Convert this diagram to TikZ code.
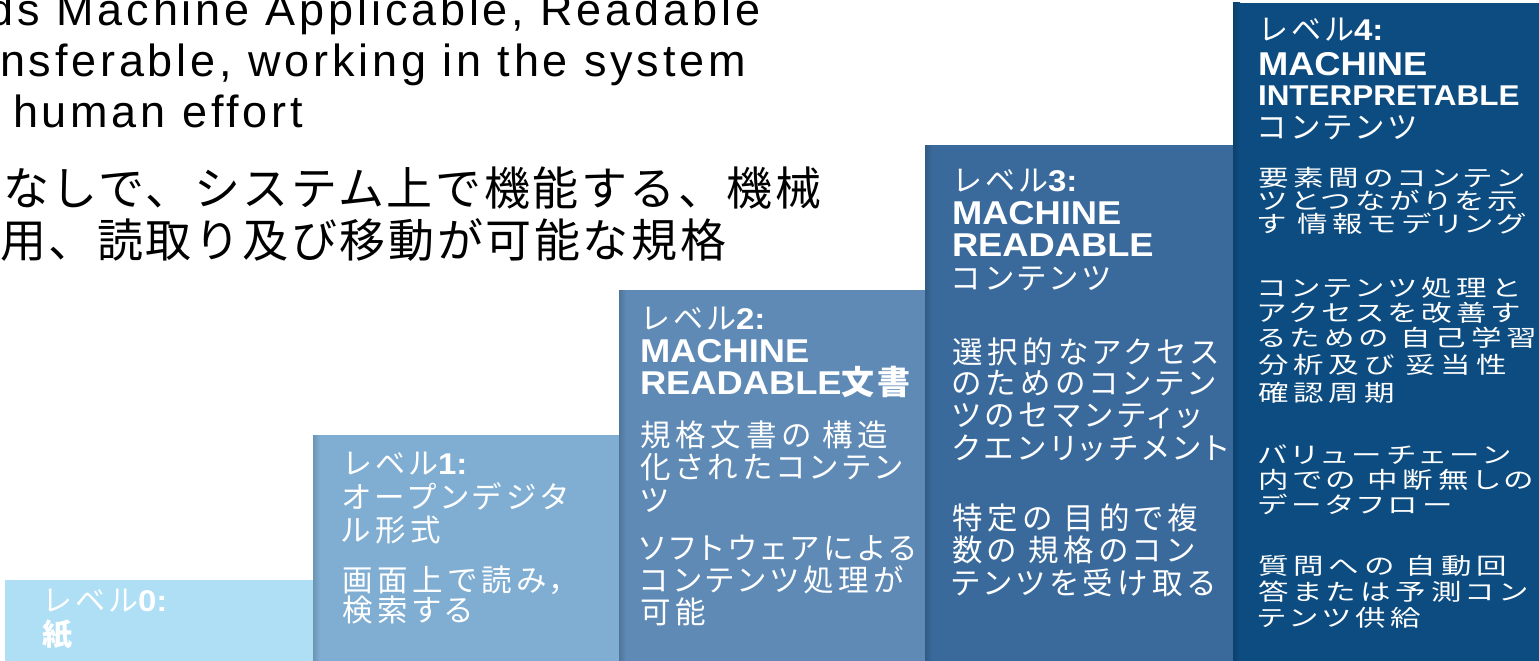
\documentclass[tikz,border=0pt]{standalone}
\usepackage{fontspec}
\usepackage{graphicx}
\setmainfont{Liberation Sans}
\newfontfamily\jp[LetterSpace=16,RawFeature={+palt}]{Noto Sans CJK JP}
\newfontfamily\jph[LetterSpace=10]{Noto Sans CJK JP}
\newfontfamily\jptop[LetterSpace=5.6]{Noto Sans CJK JP}
\newfontfamily\entop[LetterSpace=8.5]{Liberation Sans}
\newfontfamily\hd[FakeStretch=1.1]{Liberation Sans}
\definecolor{lvA}{HTML}{AEDFF5}
\definecolor{lvB}{HTML}{80AED3}
\definecolor{lvC}{HTML}{5E8AB5}
\definecolor{lvD}{HTML}{3A6A9B}
\definecolor{lvE}{HTML}{0D4C80}
\tikzset{
  ln/.style={anchor=base west, inner sep=0pt, outer sep=0pt, text=white, font=\jp\fontsize{30.5}{30.5}\selectfont},
  lvhead/.style={ln, font=\jph\fontsize{30}{30}\selectfont},
  hdline/.style={ln, font=\hd\bfseries\fontsize{33}{33}\selectfont},
  topen/.style={anchor=base west, inner sep=0pt, outer sep=0pt, text=black, font=\entop\fontsize{45}{45}\selectfont},
  topjp/.style={anchor=base west, inner sep=0pt, outer sep=0pt, text=black, font=\jptop\fontsize{46}{46}\selectfont},
}
\newcommand{\lvnum}[1]{{\hd\bfseries #1}}
\newcommand{\sq}[1]{\scalebox{1}[0.75]{#1}}
\begin{document}
\begin{tikzpicture}[x=1pt,y=-1pt]
\useasboundingbox (0,0) rectangle (1539,661);
\clip (0,0) rectangle (1539,661);
\fill[white] (0,0) rectangle (1539,661);
% steps
\fill[lvA] (5,580) rectangle (313,661);
\fill[lvB] (313,435) rectangle (619,661);
\fill[lvC] (619,290) rectangle (925,661);
\fill[lvD] (925,145) rectangle (1233,661);
\fill[lvE] (1233,3) rectangle (1539,661);
% shadow strips on left edges
\shade[left color=lvB!85!black, right color=lvB] (313,435) rectangle (320,661);
\shade[left color=lvC!85!black, right color=lvC] (619,290) rectangle (626,661);
\shade[left color=lvD!85!black, right color=lvD] (925,145) rectangle (932,661);
\shade[left color=lvE!85!black, right color=lvE] (1233,3) rectangle (1240,661);
% top text
\node[topen] (t1) at (-11,26) {ds Machine Applicable, Readable};
\node[topen] (t2) at (0,77) {nsferable, working in the system};
\node[topen] (t3) at (13,127) {human effort};
\node[topjp] (t4) at (3,205) {なしで、システム上で機能する、機械};
\node[topjp] (t5) at (0,257) {用、読取り及び移動が可能な規格};
% level 0
\node[lvhead] (a1) at (42,611) {レベル\lvnum{0:}};
\node[lvhead, font=\jph\bfseries\fontsize{30}{30}\selectfont] (a2) at (42,645) {紙};
% level 1
\node[lvhead] (b1) at (342,474) {レベル\lvnum{1:}};
\node[ln] (b2) at (342,508) {オープンデジタ};
\node[ln] (b3) at (342,541) {ル形式};
\node[ln] (b4) at (342,591) {画面上で読み，};
\node[ln] (b5) at (342,621) {検索する};
% level 2
\node[lvhead] (c1) at (640,329) {レベル\lvnum{2:}};
\node[hdline] (c2) at (640,362) {MACHINE};
\node[hdline] (c3) at (640,394) {READABLE{\jph 文書}};
\foreach \yy/\tt [count=\i] in {446/規格文書の 構造, 478/化されたコンテン, 511/ツ, 559/ソフトウェアによる, 591/コンテンツ処理が, 623/可能}
  \node[ln] (cb\i) at (640,\yy) {\tt};
% level 3
\node[lvhead] (d1) at (952,191) {レベル\lvnum{3:}};
\node[hdline] (d2) at (952,224) {MACHINE};
\node[hdline] (d3) at (952,256) {READABLE};
\node[ln] (d4) at (952,289) {コンテンツ};
\foreach \yy/\tt [count=\i] in {363/選択的なアクセス, 394/のためのコンテン, 426/ツのセマンティッ, 459/クエンリッチメント, 529/特定の 目的で複, 561/数の 規格のコン, 594/テンツを受け取る}
  \node[ln] (db\i) at (952,\yy) {\tt};
% level 4
\node[lvhead] (e1) at (1258,41) {レベル\lvnum{4:}};
\node[hdline] (e2) at (1258,75) {MACHINE};
\node[hdline, font=\hd\bfseries\fontsize{28.6}{28.6}\selectfont] (e3) at (1258,105) {INTERPRETABLE};
\node[ln] (e4) at (1258,138) {コンテンツ};
\foreach \yy/\tt [count=\i] in {186/要素間のコンテン, 209/ツとつながりを示, 232/す 情報モデリング, 296/コンテンツ処理と, 321/アクセスを改善す, 346/るための 自己学習, 373/分析及び 妥当性, 401/確認周期, 463/バリューチェーン, 488/内での 中断無しの, 513/データフロー, 574/質問への 自動回, 600/答または予測コン, 626/テンツ供給}
  \node[ln] (eb\i) at (1258,\yy) {\sq{\tt}};
\end{tikzpicture}
\end{document}
